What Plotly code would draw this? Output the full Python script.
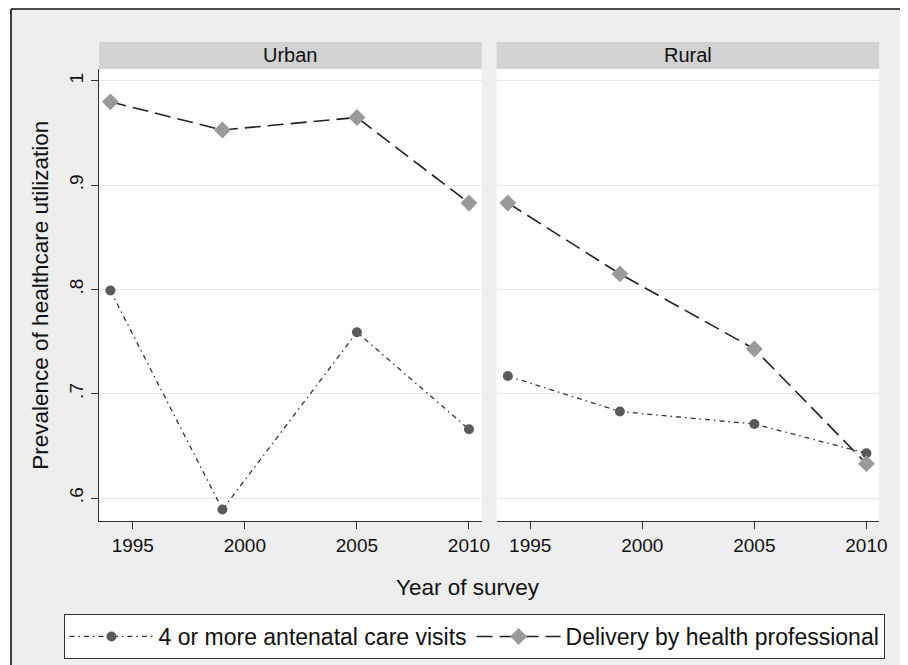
import plotly.graph_objects as go

years = [1994, 1999, 2005, 2010]
panels = ["Urban", "Rural"]
anc_urban = [0.799, 0.589, 0.759, 0.666]
del_urban = [0.980, 0.953, 0.965, 0.883]
anc_rural = [0.717, 0.683, 0.671, 0.643]
del_rural = [0.883, 0.815, 0.743, 0.633]
series_names = ["4 or more antenatal care visits", "Delivery by health professional"]
x_ticks = [1995, 2000, 2005, 2010]
y_ticks = [0.6, 0.7, 0.8, 0.9, 1.0]
y_ticklabels = [".6", ".7", ".8", ".9", "1"]

# page has an 8px body margin, so the figure is offset by 8px
OFF = 8
W, H = 908 - OFF, 665 - OFF
FONT = "Liberation Sans, Arial, sans-serif"


def px_x(v):
    return (v - OFF) / W


def px_y(v):
    return (H - (v - OFF)) / H


fig = go.Figure()

data = [(anc_urban, del_urban), (anc_rural, del_rural)]
for i, (anc, dlv) in enumerate(data):
    xa = "x" if i == 0 else "x2"
    ya = "y" if i == 0 else "y2"
    fig.add_trace(go.Scatter(
        x=years, y=anc, mode="lines+markers", name=series_names[0],
        legendgroup="anc", showlegend=(i == 0), xaxis=xa, yaxis=ya,
        line=dict(color="#333333", width=1.3, dash="5px,4px,1.5px,4px"),
        marker=dict(symbol="circle", size=10, color="#5a5a5a"),
    ))
    fig.add_trace(go.Scatter(
        x=years, y=dlv, mode="lines+markers", name=series_names[1],
        legendgroup="del", showlegend=(i == 0), xaxis=xa, yaxis=ya,
        line=dict(color="#222222", width=1.6, dash="16px,7px"),
        marker=dict(symbol="diamond", size=13, color="#9a9a9a"),
    ))

xrange = [1993.5, 2010.57]
yrange = [0.578, 1.0115]
ydom = [px_y(521), px_y(69)]

common_x = dict(
    range=xrange, tickvals=x_ticks, ticks="outside", ticklen=7, tickwidth=1,
    tickcolor="#333333", showline=True, linecolor="#333333", linewidth=1.2,
    showgrid=False, zeroline=False,
    tickfont=dict(family=FONT, size=19, color="#111111"),
)
common_y = dict(
    range=yrange, tickvals=y_ticks, showgrid=True, gridcolor="#e6e6e6",
    gridwidth=1, zeroline=False,
)

fig.update_layout(
    width=W, height=H, autosize=False,
    margin=dict(l=0, r=0, t=0, b=0),
    paper_bgcolor="#eeeeee", plot_bgcolor="white",
    font=dict(family=FONT, color="#111111"),
    xaxis=dict(domain=[px_x(100), px_x(486)], anchor="y", **common_x),
    xaxis2=dict(domain=[px_x(501), px_x(887)], anchor="y2", **common_x),
    yaxis=dict(domain=ydom, anchor="x", ticktext=y_ticklabels, ticks="outside",
               ticklen=7, tickcolor="#333333", tickangle=-90,
               showline=True, linecolor="#333333", linewidth=1.2,
               tickfont=dict(family=FONT, size=19, color="#111111"), **common_y),
    yaxis2=dict(domain=ydom, anchor="x2", showticklabels=False, ticks="",
                showline=False, **common_y),
    legend=dict(
        orientation="h", x=px_x(65), xanchor="left", y=px_y(614), yanchor="top",
        bgcolor="white", bordercolor="#333333", borderwidth=1,
        font=dict(family=FONT, size=23, color="#111111"),
        itemwidth=84,
    ),
    showlegend=True,
)

shapes = [
    # white page edge outside the outer frame
    dict(type="rect", xref="paper", yref="paper", x0=-0.01, x1=px_x(11),
         y0=-0.01, y1=1.01, fillcolor="white", line=dict(width=0), layer="below"),
    dict(type="rect", xref="paper", yref="paper", x0=-0.01, x1=1.01,
         y0=px_y(9), y1=1.01, fillcolor="white", line=dict(width=0), layer="below"),
    # outer frame lines
    dict(type="line", xref="paper", yref="paper", x0=px_x(11), x1=1.01,
         y0=px_y(9), y1=px_y(9), line=dict(color="#111111", width=1.6)),
    dict(type="line", xref="paper", yref="paper", x0=px_x(11), x1=px_x(11),
         y0=-0.01, y1=px_y(9), line=dict(color="#111111", width=1.6)),
]
for x0, x1 in [(100, 486), (501, 887)]:
    shapes.append(dict(type="rect", xref="paper", yref="paper",
                       x0=px_x(x0), x1=px_x(x1), y0=px_y(69), y1=px_y(42),
                       fillcolor="#d2d2d2", line=dict(width=0), layer="below"))
fig.update_layout(shapes=shapes)

annotations = []
for name, (x0, x1) in zip(panels, [(100, 486), (501, 887)]):
    annotations.append(dict(text=name, xref="paper", yref="paper",
                            x=px_x((x0 + x1) / 2), y=px_y(55.5),
                            xanchor="center", yanchor="middle", showarrow=False,
                            font=dict(family=FONT, size=20, color="#111111")))
annotations.append(dict(text="Prevalence of healthcare utilization", xref="paper",
                        yref="paper", x=px_x(40), y=px_y(295), textangle=-90,
                        xanchor="center", yanchor="middle", showarrow=False,
                        font=dict(family=FONT, size=22.5, color="#111111")))
annotations.append(dict(text="Year of survey", xref="paper", yref="paper",
                        x=px_x(472.5), y=px_y(587), xanchor="center", yanchor="middle",
                        showarrow=False,
                        font=dict(family=FONT, size=22.5, color="#111111")))
fig.update_layout(annotations=annotations)

fig.write_html("out.html")
